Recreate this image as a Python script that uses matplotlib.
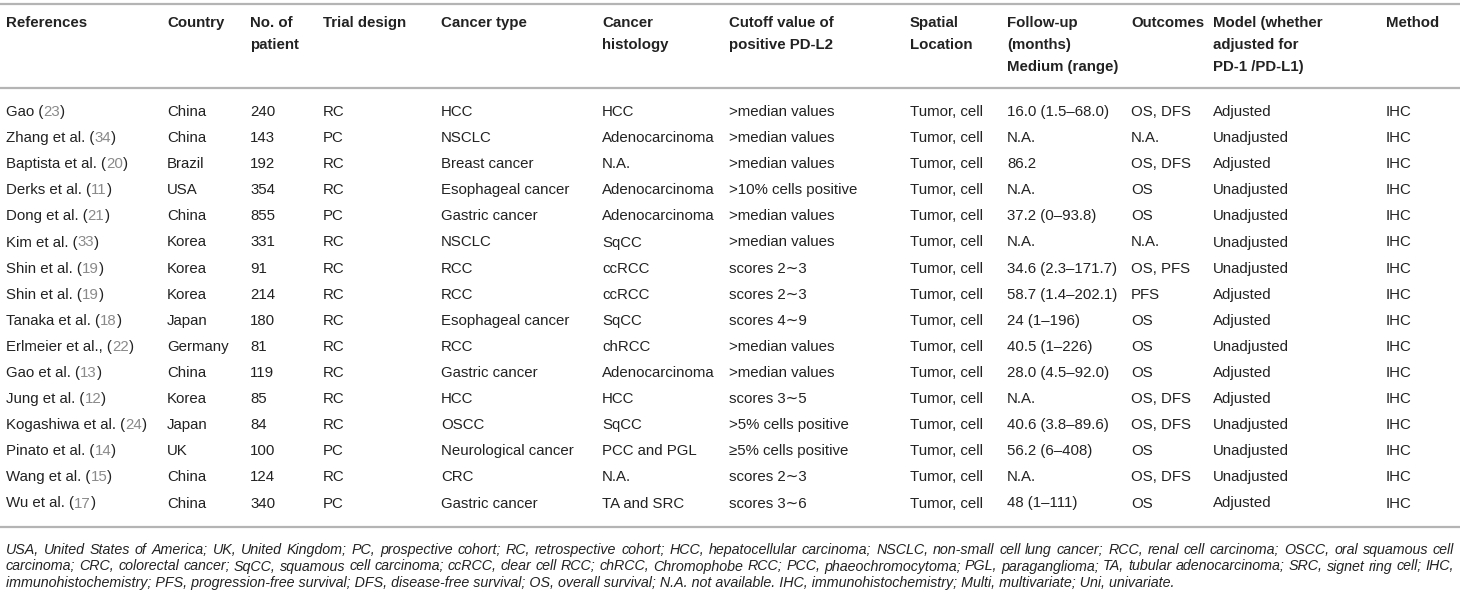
import matplotlib.pyplot as plt

plt.rcParams['font.family'] = ['Liberation Sans', 'DejaVu Sans']

# column headers, one list of lines per column
headers = [
    ["References"], ["Country"], ["No. of", "patient"], ["Trial design"],
    ["Cancer type"], ["Cancer", "histology"], ["Cutoff value of", "positive PD-L2"],
    ["Spatial", "Location"], ["Follow-up", "(months)", "Medium (range)"],
    ["Outcomes"], ["Model (whether", "adjusted for", "PD-1 /PD-L1)"], ["Method"],
]

authors = ["Gao", "Zhang et al.", "Baptista et al.", "Derks et al.", "Dong et al.",
           "Kim et al.", "Shin et al.", "Shin et al.", "Tanaka et al.", "Erlmeier et al.,",
           "Gao et al.", "Jung et al.", "Kogashiwa et al.", "Pinato et al.", "Wang et al.",
           "Wu et al."]
ref_numbers = ["23", "34", "20", "11", "21", "33", "19", "19", "18", "22",
               "13", "12", "24", "14", "15", "17"]
countries = ["China", "China", "Brazil", "USA", "China", "Korea", "Korea", "Korea",
             "Japan", "Germany", "China", "Korea", "Japan", "UK", "China", "China"]
patients = ["240", "143", "192", "354", "855", "331", "91", "214", "180", "81",
            "119", "85", "84", "100", "124", "340"]
designs = ["RC", "PC", "RC", "RC", "PC", "RC", "RC", "RC", "RC", "RC",
           "RC", "RC", "RC", "PC", "RC", "PC"]
cancer_types = ["HCC", "NSCLC", "Breast cancer", "Esophageal cancer", "Gastric cancer",
                "NSCLC", "RCC", "RCC", "Esophageal cancer", "RCC", "Gastric cancer",
                "HCC", "OSCC", "Neurological cancer", "CRC", "Gastric cancer"]
histology = ["HCC", "Adenocarcinoma", "N.A.", "Adenocarcinoma", "Adenocarcinoma",
             "SqCC", "ccRCC", "ccRCC", "SqCC", "chRCC", "Adenocarcinoma", "HCC",
             "SqCC", "PCC and PGL", "N.A.", "TA and SRC"]
cutoffs = [">median values", ">median values", ">median values", ">10% cells positive",
           ">median values", ">median values", "scores 2\u223c3", "scores 2\u223c3",
           "scores 4\u223c9", ">median values", ">median values", "scores 3\u223c5",
           ">5% cells positive", "\u22655% cells positive", "scores 2\u223c3",
           "scores 3\u223c6"]
locations = ["Tumor, cell"] * 16
followup = ["16.0 (1.5\u201368.0)", "N.A.", "86.2", "N.A.", "37.2 (0\u201393.8)", "N.A.",
            "34.6 (2.3\u2013171.7)", "58.7 (1.4\u2013202.1)", "24 (1\u2013196)",
            "40.5 (1\u2013226)", "28.0 (4.5\u201392.0)", "N.A.", "40.6 (3.8\u201389.6)",
            "56.2 (6\u2013408)", "N.A.", "48 (1\u2013111)"]
outcomes = ["OS, DFS", "N.A.", "OS, DFS", "OS", "OS", "N.A.", "OS, PFS", "PFS", "OS",
            "OS", "OS", "OS, DFS", "OS, DFS", "OS", "OS, DFS", "OS"]
models = ["Adjusted", "Unadjusted", "Adjusted", "Unadjusted", "Unadjusted", "Unadjusted",
          "Unadjusted", "Adjusted", "Adjusted", "Unadjusted", "Adjusted", "Adjusted",
          "Unadjusted", "Unadjusted", "Unadjusted", "Adjusted"]
methods = ["IHC"] * 16

footnote = [
    "USA, United States of America; UK, United Kingdom; PC, prospective cohort; RC, retrospective cohort; "
    "HCC, hepatocellular carcinoma; NSCLC, non-small cell lung cancer; RCC, renal cell carcinoma; OSCC, oral squamous cell",
    "carcinoma; CRC, colorectal cancer; SqCC, squamous cell carcinoma; ccRCC, clear cell RCC; chRCC, Chromophobe RCC; "
    "PCC, phaeochromocytoma; PGL, paraganglioma; TA, tubular adenocarcinoma; SRC, signet ring cell; IHC,",
    "immunohistochemistry; PFS, progression-free survival; DFS, disease-free survival; OS, overall survival; "
    "N.A. not available. IHC, immunohistochemistry; Multi, multivariate; Uni, univariate.",
]

col_x = [6, 167, 250, 323, 441, 602, 729, 910, 1007, 1131, 1213, 1386]
text_color = "#222222"
ref_color = "#8a8a8a"
line_color = "#b4b4b4"
fs = 10.8
foot_fs = 10.3

fig = plt.figure(figsize=(14.6, 5.96), dpi=100)
ax = fig.add_axes([0, 0, 1, 1])
ax.set_xlim(0, 1460)
ax.set_ylim(596, 0)
ax.axis("off")
renderer = fig.canvas.get_renderer()

# rules
for y in [4, 88, 527]:
    ax.plot([0, 1460], [y, y], color=line_color, lw=1.6, solid_capstyle="butt")

# header
for x, lines in zip(col_x, headers):
    for k, line in enumerate(lines):
        ax.text(x, 23 + 22 * k, line, fontsize=fs, fontweight="bold",
                color=text_color, va="center", ha="left")

# body
columns = [countries, patients, designs, cancer_types, histology, cutoffs,
           locations, followup, outcomes, models, methods]
row_y0 = 112
row_h = 26.1
for i in range(len(authors)):
    y = row_y0 + i * row_h
    # reference with grey citation number
    t1 = ax.text(col_x[0], y, authors[i] + " (", fontsize=fs, color=text_color,
                 va="center", ha="left")
    w1 = t1.get_window_extent(renderer).width
    t2 = ax.text(col_x[0] + w1, y, ref_numbers[i], fontsize=fs, color=ref_color,
                 va="center", ha="left")
    w2 = t2.get_window_extent(renderer).width
    ax.text(col_x[0] + w1 + w2, y, ")", fontsize=fs, color=text_color,
            va="center", ha="left")
    for x, col in zip(col_x[1:], columns):
        ax.text(x, y, col[i], fontsize=fs, color=text_color, va="center", ha="left")

# footnote, first two lines justified to the full width
left, right = 6, 1454
for k, line in enumerate(footnote):
    y = 550 + 16.5 * k
    if k == len(footnote) - 1:
        ax.text(left, y, line, fontsize=foot_fs, style="italic",
                color=text_color, va="center", ha="left")
        continue
    words = line.split(" ")
    items = [ax.text(0, y, w, fontsize=foot_fs, style="italic", color=text_color,
                     va="center", ha="left") for w in words]
    widths = [t.get_window_extent(renderer).width for t in items]
    gap = (right - left - sum(widths)) / (len(words) - 1)
    x = left
    for t, w in zip(items, widths):
        t.set_x(x)
        x += w + gap

fig.savefig("out.png", dpi=100)
